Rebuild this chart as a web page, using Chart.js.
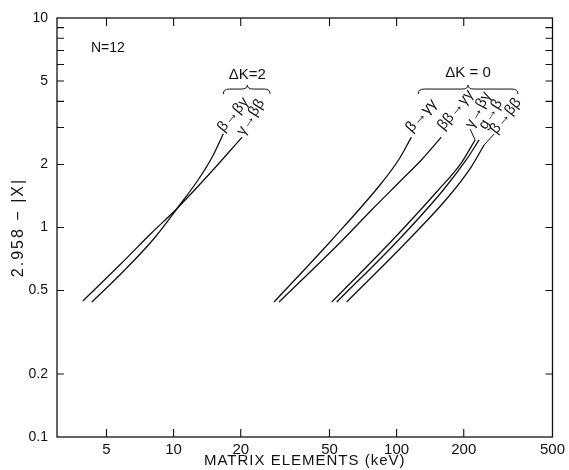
<!DOCTYPE html>
<html>
<head>
<meta charset="utf-8">
<script src="https://cdn.jsdelivr.net/npm/chart.js@4/dist/chart.umd.min.js"></script>
<style>
  html, body { margin: 0; padding: 0; background: #fff; }
  #wrap { width: 569px; height: 470px; position: relative; }
</style>
</head>
<body>
<div id="wrap"><canvas id="chart"></canvas></div>
<script>
// transitions, one curve each
const curveNames = ["β→βγ", "γ→ββ", "β→γγ", "ββ→γγ", "γ→βγ", "g→β", "β→ββ"];

// matrix element (keV) and 2.958-|X| along every curve
const bToBgX = [4.30, 6.04, 8.21, 10.41, 13.05, 15.07, 16.7];
const bToBgY = [0.441, 0.627, 0.891, 1.239, 1.723, 2.22, 2.80];
const gToBbX = [3.92, 5.73, 7.96, 10.41, 14.46, 20.3];
const gToBbY = [0.446, 0.662, 0.941, 1.239, 1.80, 2.70];
const bToGgX = [28.2, 51.2, 85.6, 102, 116.5];
const bToGgY = [0.441, 0.872, 1.631, 2.10, 2.70];
const bbToGgX = [29.7, 57.3, 77.2, 105.1, 129.1, 158.6];
const bbToGgY = [0.441, 0.872, 1.212, 1.685, 2.10, 2.70];
const gToBgX = [51.2, 95.9, 153.8, 194.8, 224.9];
const gToBgY = [0.441, 0.872, 1.510, 2.03, 2.617];
const g2ToBX = [53.9, 102, 161.9, 205.1, 234.4];
const g2ToBY = [0.441, 0.872, 1.510, 2.10, 2.617];
const bToBbX = [59.7, 113, 170.4, 215.9, 246.8];
const bToBbY = [0.441, 0.872, 1.398, 1.944, 2.476];

const curveX = [bToBgX, gToBbX, bToGgX, bbToGgX, gToBgX, g2ToBX, bToBbX];
const curveY = [bToBgY, gToBbY, bToGgY, bbToGgY, gToBgY, g2ToBY, bToBbY];

// axis ticks
const xTicks = [5, 10, 20, 50, 100, 200, 500];
const yTicks = [0.1, 0.2, 0.5, 1, 2, 3, 4, 5, 6, 7, 8, 9, 10];
const yLabelled = [0.1, 0.2, 0.5, 1, 2, 5, 10];

const INK = "#111";
const FONT = "'Liberation Sans', Arial, sans-serif";

// where each transition name sits next to the end of its curve
const nameOffsets = [
  { dx: -3, dy: -4, angle: -50 },
  { dx: -2, dy: -3, angle: -58 },
  { dx: -3, dy: -7, angle: -48 },
  { dx: -1, dy: -9, angle: -50 },
  { dx: -6, dy: -13, angle: -62, leader: true },
  { dx: 3, dy: -12, angle: -58 },
  { dx: 9, dy: -13, angle: -52, leader: true },
];

// group braces and headings, in axis units
const groups = [
  { text: "ΔK=2", x1: 16.7, x2: 27.1, mid: 21.4, yText: 5.35, yBrace: 4.58 },
  { text: "ΔK = 0", x1: 125, x2: 350, mid: 209, yText: 5.45, yBrace: 4.58 },
];

function drawBrace(ctx, x1, x2, xm, y) {
  ctx.beginPath();
  ctx.moveTo(x1, y + 5);
  ctx.quadraticCurveTo(x1, y, x1 + 6, y);
  ctx.lineTo(xm - 6, y);
  ctx.quadraticCurveTo(xm, y, xm, y - 4);
  ctx.quadraticCurveTo(xm, y, xm + 6, y);
  ctx.lineTo(x2 - 6, y);
  ctx.quadraticCurveTo(x2, y, x2, y + 5);
  ctx.stroke();
}

// frame with inward tick marks, axis titles and the text inside the plot
const decorations = {
  id: "decorations",
  afterDraw(chart) {
    const ctx = chart.ctx;
    const { left, right, top, bottom } = chart.chartArea;
    const xs = chart.scales.x;
    const ys = chart.scales.y;
    ctx.save();
    ctx.strokeStyle = INK;
    ctx.fillStyle = INK;
    ctx.lineWidth = 1.3;
    ctx.strokeRect(left, top, right - left, bottom - top);

    ctx.lineWidth = 1.1;
    ctx.beginPath();
    xTicks.slice(0, -1).forEach((v) => {
      const px = xs.getPixelForValue(v);
      ctx.moveTo(px, bottom);
      ctx.lineTo(px, bottom - 8);
      ctx.moveTo(px, top);
      ctx.lineTo(px, top + 8);
    });
    yTicks.slice(1, -1).forEach((v) => {
      const py = ys.getPixelForValue(v);
      ctx.moveTo(left, py);
      ctx.lineTo(left + 7, py);
      ctx.moveTo(right, py);
      ctx.lineTo(right - 7, py);
    });
    ctx.stroke();

    // axis titles, lettered wide
    ctx.letterSpacing = "1px";
    ctx.textBaseline = "middle";
    ctx.textAlign = "center";
    ctx.font = "15px " + FONT;
    ctx.fillText("MATRIX ELEMENTS (keV)", (left + right) / 2, 461);
    ctx.save();
    ctx.translate(19, (top + bottom) / 2);
    ctx.rotate(-Math.PI / 2);
    ctx.font = "16px " + FONT;
    ctx.letterSpacing = "2px";
    ctx.fillText("2.958 − |X|", 0, 0);
    ctx.restore();
    ctx.letterSpacing = "0px";

    ctx.font = "14px " + FONT;
    ctx.textAlign = "left";
    ctx.fillText("N=12", xs.getPixelForValue(4.26), ys.getPixelForValue(7.2));

    groups.forEach((g) => {
      ctx.textAlign = "center";
      ctx.font = "15px " + FONT;
      ctx.fillText(g.text, xs.getPixelForValue(g.mid), ys.getPixelForValue(g.yText));
      ctx.lineWidth = 1;
      drawBrace(ctx, xs.getPixelForValue(g.x1), xs.getPixelForValue(g.x2),
        xs.getPixelForValue(g.mid), ys.getPixelForValue(g.yBrace));
    });

    ctx.font = "15px " + FONT;
    ctx.textAlign = "left";
    curveNames.forEach((name, i) => {
      const pts = chart.getDatasetMeta(i).data;
      const end = pts[pts.length - 1];
      const o = nameOffsets[i];
      const lx = end.x + o.dx;
      const ly = end.y + o.dy;
      if (o.leader) {
        ctx.lineWidth = 1;
        ctx.beginPath();
        ctx.moveTo(end.x, end.y);
        ctx.lineTo(lx + 1, ly + 2);
        ctx.stroke();
      }
      ctx.save();
      ctx.translate(lx, ly);
      ctx.rotate((o.angle * Math.PI) / 180);
      ctx.fillText(name, 0, 0);
      ctx.restore();
    });
    ctx.restore();
  },
};

const datasets = curveNames.map((name, i) => ({
  label: name,
  data: curveX[i].map((x, j) => ({ x: x, y: curveY[i][j] })),
  showLine: true,
  borderColor: INK,
  borderWidth: 1.3,
  pointRadius: 0,
  cubicInterpolationMode: "monotone",
  fill: false,
}));

new Chart(document.getElementById("chart"), {
  type: "scatter",
  data: { datasets: datasets },
  plugins: [decorations],
  options: {
    responsive: true,
    maintainAspectRatio: false,
    animation: false,
    devicePixelRatio: 1,
    layout: { padding: { top: 18, right: 14, left: 0, bottom: 0 } },
    plugins: { legend: { display: false }, tooltip: { enabled: false } },
    scales: {
      x: {
        type: "logarithmic",
        min: 3,
        max: 500,
        afterBuildTicks: (s) => { s.ticks = xTicks.map((v) => ({ value: v })); },
        afterFit: (s) => { s.height = 33; },
        grid: { display: false, drawTicks: false },
        border: { display: false },
        ticks: {
          color: INK,
          font: { family: FONT, size: 15 },
          padding: 4,
          maxRotation: 0,
          autoSkip: false,
          callback: (v) => String(v),
        },
      },
      y: {
        type: "logarithmic",
        min: 0.1,
        max: 10,
        afterBuildTicks: (s) => { s.ticks = yTicks.map((v) => ({ value: v })); },
        afterFit: (s) => { s.width = 57; },
        grid: { display: false, drawTicks: false },
        border: { display: false },
        ticks: {
          color: INK,
          font: { family: FONT, size: 14 },
          padding: 9,
          autoSkip: false,
          callback: (v) => (yLabelled.includes(v) ? String(v) : ""),
        },
      },
    },
  },
});
</script>
</body>
</html>
